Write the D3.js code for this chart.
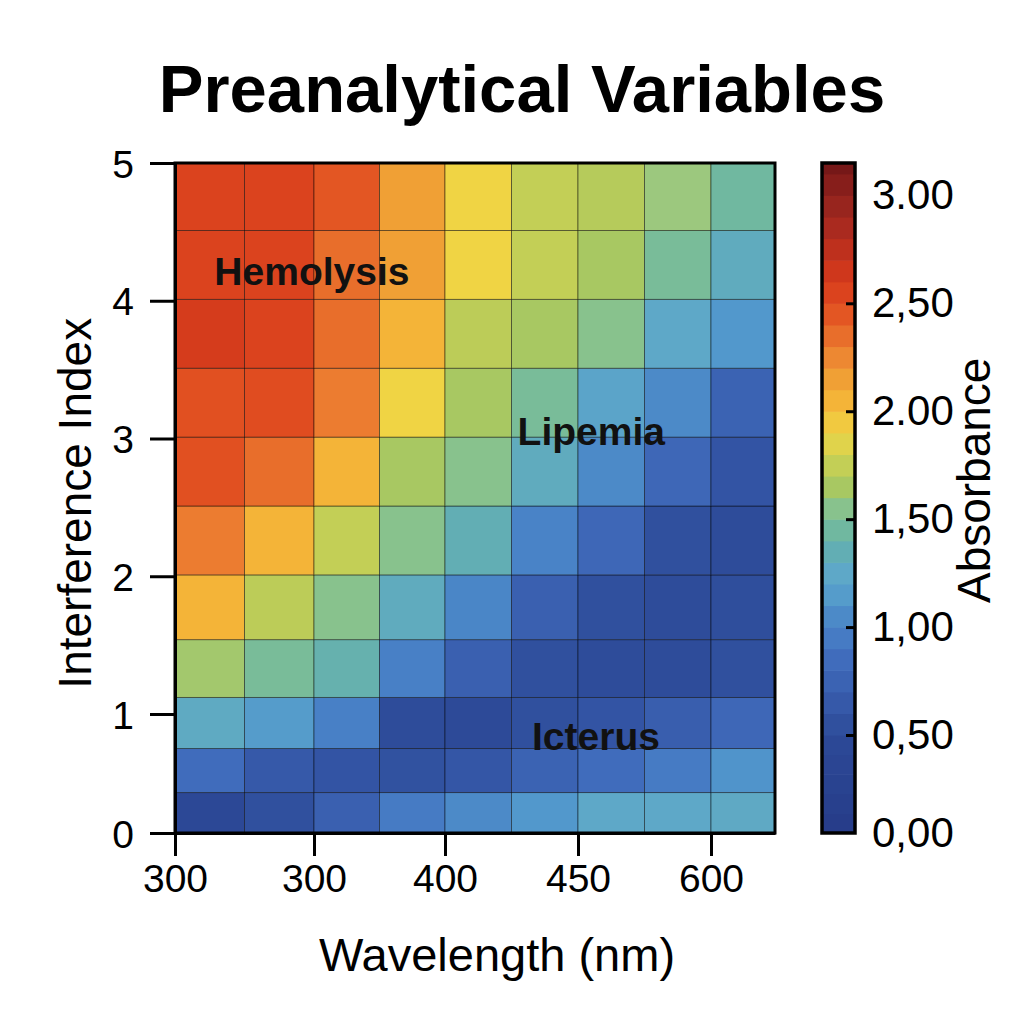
<!DOCTYPE html>
<html>
<head>
<meta charset="utf-8">
<script src="https://cdn.jsdelivr.net/npm/d3@7"></script>
<style>
  body { margin: 0; background: #fff; }
  text { font-family: "Liberation Sans", Arial, sans-serif; }
</style>
</head>
<body>
<div id="wrapper"></div>
<script>
// tick labels as printed on the original
const wavelengthTicks = ["300", "300", "400", "450", "600"];
const wavelengthTickPos = [0, 2, 4, 6, 8];
const indexTicks = [0, 1, 2, 3, 4, 5];
const absTicks = [0, 0.5, 1, 1.5, 2, 2.5, 3];
const absTickLabels = ["0,00", "0,50", "1,00", "1,50", "2.00", "2,50", "3.00"];

// row bin edges (interference index), bottom to top
const rowEdges = [0, 0.34, 0.71, 1.12, 1.54, 2.01, 2.51, 3.01, 3.51, 4.01, 4.51, 5];

// absorbance per cell, rows bottom to top, 9 wavelength columns each
const absorbance = [
  [0.45, 0.55, 0.72, 0.95, 1.05, 1.12, 1.25, 1.25, 1.27],
  [0.85, 0.65, 0.60, 0.57, 0.62, 0.75, 0.85, 0.95, 1.10],
  [1.28, 1.15, 0.98, 0.50, 0.48, 0.55, 0.60, 0.70, 0.80],
  [1.63, 1.50, 1.38, 0.98, 0.72, 0.55, 0.50, 0.50, 0.55],
  [2.05, 1.72, 1.55, 1.30, 1.02, 0.72, 0.55, 0.50, 0.52],
  [2.30, 2.05, 1.75, 1.55, 1.35, 1.00, 0.80, 0.55, 0.50],
  [2.48, 2.35, 2.05, 1.65, 1.55, 1.30, 1.05, 0.80, 0.60],
  [2.48, 2.50, 2.30, 1.90, 1.65, 1.50, 1.22, 1.05, 0.75],
  [2.60, 2.55, 2.35, 2.05, 1.72, 1.65, 1.55, 1.25, 1.12],
  [2.55, 2.55, 2.35, 2.15, 1.90, 1.75, 1.65, 1.50, 1.30],
  [2.55, 2.55, 2.45, 2.15, 1.90, 1.75, 1.70, 1.60, 1.45]
];

// palette stops for the absorbance colour scale
const stopValues = [0, 0.45, 0.55, 0.62, 0.72, 0.85, 0.98, 1.05, 1.12, 1.25, 1.35, 1.45, 1.52, 1.6, 1.65, 1.72, 1.78, 1.9, 2.05, 2.15, 2.3, 2.4, 2.5, 2.58, 2.7, 2.9, 3.15];
const stopColors = ["#263c88", "#2c4896", "#30509e", "#3456a6", "#3a60b0", "#406cbc", "#4880c6", "#4c8ac8", "#5298cc", "#5ea8c8", "#62aeb4", "#70b8a0", "#7cbe96", "#9cc87e", "#a8c862", "#bccc58", "#cad254", "#f0d444", "#f4b438", "#f0a035", "#ec7c30", "#e56026", "#e04c20", "#d83e1c", "#c8321c", "#a02820", "#761818"];

// annotation labels: column position, interference index
const annotations = [
  { label: "Hemolysis", col: 1.97, idx: 4.21 },
  { label: "Lipemia", col: 6.2, idx: 3.05 },
  { label: "Icterus", col: 6.27, idx: 0.81 }
];

const dimension = {
  width: 1024,
  height: 1024,
  margin: { top: 163, left: 175 },
  boundedWidth: 600,
  boundedHeight: 670
};

const svg = d3.select("#wrapper")
  .append("svg")
  .attr("width", dimension.width)
  .attr("height", dimension.height);

const bounds = svg.append("g")
  .attr("transform", `translate(${dimension.margin.left},${dimension.margin.top})`);

// x ticks are not evenly spaced on the original, hence the piecewise range
const xScaler = d3.scaleLinear()
  .domain([0, 2, 4, 6, 8, 9])
  .range([0, 139, 270, 403, 536, 600]);

const yScaler = d3.scaleLinear()
  .domain([0, 1, 5])
  .range([670, 551, 0]);

const colorScale = d3.scaleLinear()
  .domain(stopValues)
  .range(stopColors)
  .interpolate(d3.interpolateRgb)
  .clamp(true);

// cells
const cells = [];
absorbance.forEach((row, r) => {
  row.forEach((v, c) => cells.push({ r, c, v }));
});

bounds.append("g")
  .selectAll("rect")
  .data(cells)
  .join("rect")
  .attr("x", d => xScaler(d.c))
  .attr("y", d => yScaler(rowEdges[d.r + 1]))
  .attr("width", d => xScaler(d.c + 1) - xScaler(d.c))
  .attr("height", d => yScaler(rowEdges[d.r]) - yScaler(rowEdges[d.r + 1]))
  .attr("fill", d => colorScale(d.v))
  .attr("stroke", "rgba(0,0,0,0.45)")
  .attr("stroke-width", 1);

// frame
bounds.append("rect")
  .attr("width", dimension.boundedWidth)
  .attr("height", dimension.boundedHeight)
  .attr("fill", "none")
  .attr("stroke", "#000")
  .attr("stroke-width", 3);

// annotations
bounds.append("g")
  .selectAll("text")
  .data(annotations)
  .join("text")
  .attr("x", d => xScaler(d.col))
  .attr("y", d => yScaler(d.idx))
  .attr("dy", "0.35em")
  .attr("text-anchor", "middle")
  .attr("font-size", "39px")
  .attr("font-weight", "bold")
  .attr("fill", "#111")
  .text(d => d.label);

// axes
const xAxisGen = d3.axisBottom(xScaler)
  .tickValues(wavelengthTickPos)
  .tickFormat((d, i) => wavelengthTicks[i])
  .tickSizeInner(23)
  .tickSizeOuter(0)
  .tickPadding(8);

const xAxis = bounds.append("g")
  .attr("transform", `translate(0,${dimension.boundedHeight})`)
  .call(xAxisGen);

const yAxisGen = d3.axisLeft(yScaler)
  .tickValues(indexTicks)
  .tickFormat(d3.format("d"))
  .tickSizeInner(25)
  .tickSizeOuter(0)
  .tickPadding(16);

const yAxis = bounds.append("g")
  .call(yAxisGen);

[xAxis, yAxis].forEach(ax => {
  ax.selectAll("path").attr("stroke-width", 3);
  ax.selectAll("line").attr("stroke-width", 3);
  ax.selectAll("text").attr("font-size", "39px").attr("fill", "#000");
});
yAxis.selectAll("text").attr("dy", "0.36em");

bounds.append("text")
  .attr("x", 322)
  .attr("y", 808)
  .attr("text-anchor", "middle")
  .attr("font-size", "47px")
  .text("Wavelength (nm)");

bounds.append("text")
  .attr("transform", `translate(-84,${yScaler(2.53)}) rotate(-90)`)
  .attr("text-anchor", "middle")
  .attr("font-size", "46px")
  .text("Interference Index");

// title
svg.append("text")
  .attr("x", 522)
  .attr("y", 112)
  .attr("text-anchor", "middle")
  .attr("font-size", "67px")
  .attr("font-weight", "bold")
  .text("Preanalytical Variables");

// colour bar
const cbar = svg.append("g")
  .attr("transform", "translate(822,163)");
const cbarWidth = 33;

const cScaler = d3.scaleLinear()
  .domain([0, 0.5, 3.15])
  .range([670, 572, 0]);

const bandStep = 0.1;
const bands = d3.range(0, 3.15, bandStep);

cbar.append("g")
  .selectAll("rect")
  .data(bands)
  .join("rect")
  .attr("x", 0)
  .attr("y", d => cScaler(Math.min(d + bandStep, 3.15)))
  .attr("width", cbarWidth)
  .attr("height", d => cScaler(d) - cScaler(Math.min(d + bandStep, 3.15)) + 0.6)
  .attr("fill", d => colorScale(d + bandStep / 2));

cbar.append("rect")
  .attr("width", cbarWidth)
  .attr("height", 670)
  .attr("fill", "none")
  .attr("stroke", "#000")
  .attr("stroke-width", 3.5);

// inward tick marks
const cTicksIn = d3.axisLeft(cScaler)
  .tickValues(absTicks.slice(1, 6))
  .tickSizeInner(9)
  .tickSizeOuter(0)
  .tickFormat("");
cbar.append("g")
  .attr("transform", `translate(${cbarWidth},0)`)
  .call(cTicksIn)
  .call(g => g.select(".domain").remove())
  .selectAll("line").attr("stroke-width", 3);

const cAxisGen = d3.axisRight(cScaler)
  .tickValues(absTicks)
  .tickFormat((d, i) => absTickLabels[i])
  .tickSize(0)
  .tickPadding(17);
cbar.append("g")
  .attr("transform", `translate(${cbarWidth},0)`)
  .call(cAxisGen)
  .call(g => g.select(".domain").remove())
  .selectAll("text")
  .attr("font-size", "42px")
  .attr("fill", "#000");

cbar.append("text")
  .attr("transform", `translate(168,${cScaler(1.68)}) rotate(-90)`)
  .attr("text-anchor", "middle")
  .attr("font-size", "46px")
  .text("Absorbance");
</script>
</body>
</html>
